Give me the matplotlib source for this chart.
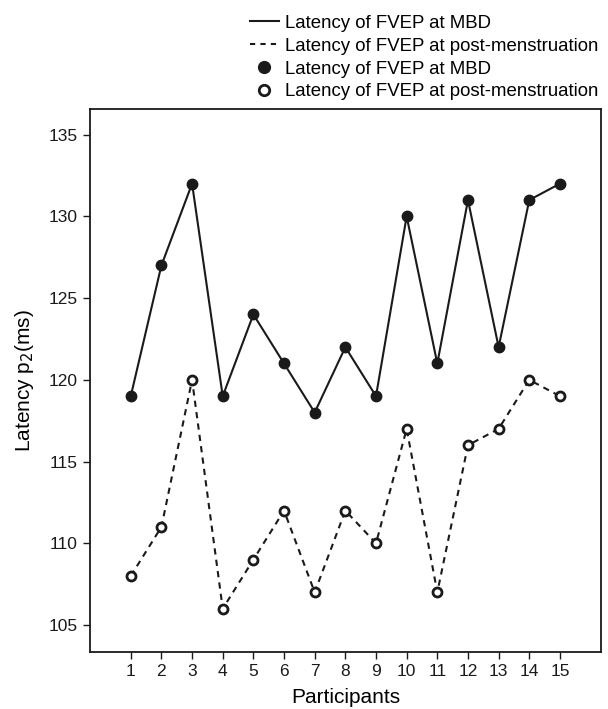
import matplotlib.pyplot as plt
from matplotlib.lines import Line2D

plt.rcParams['font.family'] = ['Liberation Sans', 'DejaVu Sans']

participants = list(range(1, 16))
mbd = [119, 127, 132, 119, 124, 121, 118, 122, 119, 130, 121, 131, 122, 131, 132]
post = [108, 111, 120, 106, 109, 112, 107, 112, 110, 117, 107, 116, 117, 120, 119]

fig = plt.figure(figsize=(6.08, 7.09), dpi=100)
ax = fig.add_axes([0.1475, 0.0797, 0.841, 0.7666])

ax.plot(participants, mbd, '-', color='#1a1a1a', lw=1.5)
ax.plot(participants, post, '--', color='#1a1a1a', lw=1.5, dashes=(3, 2.5))
ax.plot(participants, mbd, 'o', color='#1a1a1a', ms=7.5)
ax.plot(participants, post, 'o', mfc='white', mec='#1a1a1a', mew=2, ms=6.5)

ax.set_xlim(-0.34, 16.34)
ax.set_ylim(103.32, 136.57)
ax.set_xticks(participants)
ax.set_yticks([105, 110, 115, 120, 125, 130, 135])
ax.tick_params(labelsize=12.5, length=5, width=1, colors='#1a1a1a', pad=3.5)
for s in ax.spines.values():
    s.set_linewidth(1.3)
    s.set_color('#1a1a1a')

ax.set_xlabel('Participants', fontsize=15, labelpad=6)
ax.set_ylabel('Latency p$_2$(ms)', fontsize=15, labelpad=9)

handles = [
    Line2D([], [], ls='-', color='#1a1a1a', lw=1.5),
    Line2D([], [], ls='--', color='#1a1a1a', lw=1.5, dashes=(2.5, 2.5)),
    Line2D([], [], ls='', marker='o', color='#1a1a1a', ms=8.5),
    Line2D([], [], ls='', marker='o', mfc='white', mec='#1a1a1a', mew=2, ms=7.5),
]
labels = ['Latency of FVEP at MBD', 'Latency of FVEP at post-menstruation',
          'Latency of FVEP at MBD', 'Latency of FVEP at post-menstruation']
fig.legend(handles, labels, loc='upper left', bbox_to_anchor=(0.411, 0.979),
           frameon=False, fontsize=13.4, handlelength=1.56, handletextpad=0.32,
           labelspacing=0.31, borderaxespad=0, borderpad=0)

fig.savefig('out.png', dpi=100)
